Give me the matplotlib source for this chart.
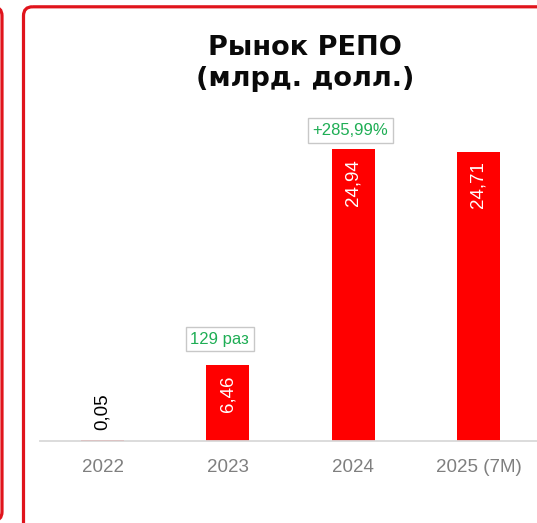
import matplotlib
matplotlib.use("Agg")
import matplotlib.pyplot as plt
from matplotlib.patches import FancyBboxPatch

# ---- data ----
categories = ["2022", "2023", "2024", "2025 (7M)"]
values = [0.05, 6.46, 24.94, 24.71]
value_labels = ["0,05", "6,46", "24,94", "24,71"]
growth_labels = [None, "129 раз", "+285,99%", None]
title_lines = ["Рынок РЕПО", "(млрд. долл.)"]

W, H = 537, 523
fig = plt.figure(figsize=(W / 100, H / 100), dpi=100)
fig.patch.set_facecolor("white")

# ---- panel borders (pixel coordinates overlay) ----
bg = fig.add_axes([0, 0, 1, 1], zorder=0)
bg.set_xlim(0, W)
bg.set_ylim(H, 0)
bg.axis("off")
red = "#e0141c"
bg.add_patch(FancyBboxPatch((23.5, 6.8), 600, 600,
                            boxstyle="round,pad=0,rounding_size=9",
                            fc="none", ec=red, lw=2.3, clip_on=False))
bg.add_patch(FancyBboxPatch((-100, 6.8), 102, 514,
                            boxstyle="round,pad=0,rounding_size=9",
                            fc="none", ec=red, lw=2.3, clip_on=False))

# ---- title ----
tx = 305 / W
fig.text(tx, 1 - 55 / H, title_lines[0], ha="center", va="baseline",
         fontsize=19.5, fontweight="bold", family="DejaVu Sans", color="#0a0a0a")
fig.text(tx, 1 - 85.7 / H, title_lines[1], ha="center", va="baseline",
         fontsize=19.5, fontweight="bold", family="DejaVu Sans", color="#0a0a0a")

# ---- chart ----
ymax = 30
base_px, top_px = 441, 441 - ymax * 11.7
ax = fig.add_axes([40 / W, (H - base_px) / H, (541 - 40) / W, (base_px - top_px) / H], zorder=1)
ax.patch.set_alpha(0)
x = list(range(len(categories)))
ax.bar(x, values, width=0.345, color="#ff0000")
ax.set_xlim(-0.5, len(categories) - 0.5)
ax.set_ylim(0, ymax)
ax.set_yticks([])
ax.set_xticks(x)
ax.set_xticklabels(categories, fontsize=13.5, color="#7f7f7f", family="Liberation Sans")
ax.tick_params(axis="x", length=0, pad=13)
for s in ["top", "left", "right"]:
    ax.spines[s].set_visible(False)
ax.spines["bottom"].set_color("#d9d9d9")
ax.spines["bottom"].set_linewidth(1.3)

for i, (v, lab) in enumerate(zip(values, value_labels)):
    if v < 1:
        ax.annotate(lab, (i, v), xytext=(0, 7.5), textcoords="offset points",
                    rotation=90, ha="center", va="bottom", fontsize=13.5,
                    color="black", family="Liberation Sans")
    else:
        ax.annotate(lab, (i, v), xytext=(0, -7), textcoords="offset points",
                    rotation=90, ha="center", va="top", fontsize=13.5,
                    color="white", family="Liberation Sans")

growth_offsets = [(0, 0), (-6, 19), (-2, 13.5), (0, 0)]
for i, (v, g) in enumerate(zip(values, growth_labels)):
    if g:
        ax.annotate(g, (i, v), xytext=growth_offsets[i], textcoords="offset points",
                    ha="center", va="center", fontsize=12, color="#1fae55",
                    family="Liberation Sans",
                    bbox=dict(boxstyle="square,pad=0.28", fc="white", ec="#c8c8c8", lw=1))

fig.savefig("out.png", dpi=100)
